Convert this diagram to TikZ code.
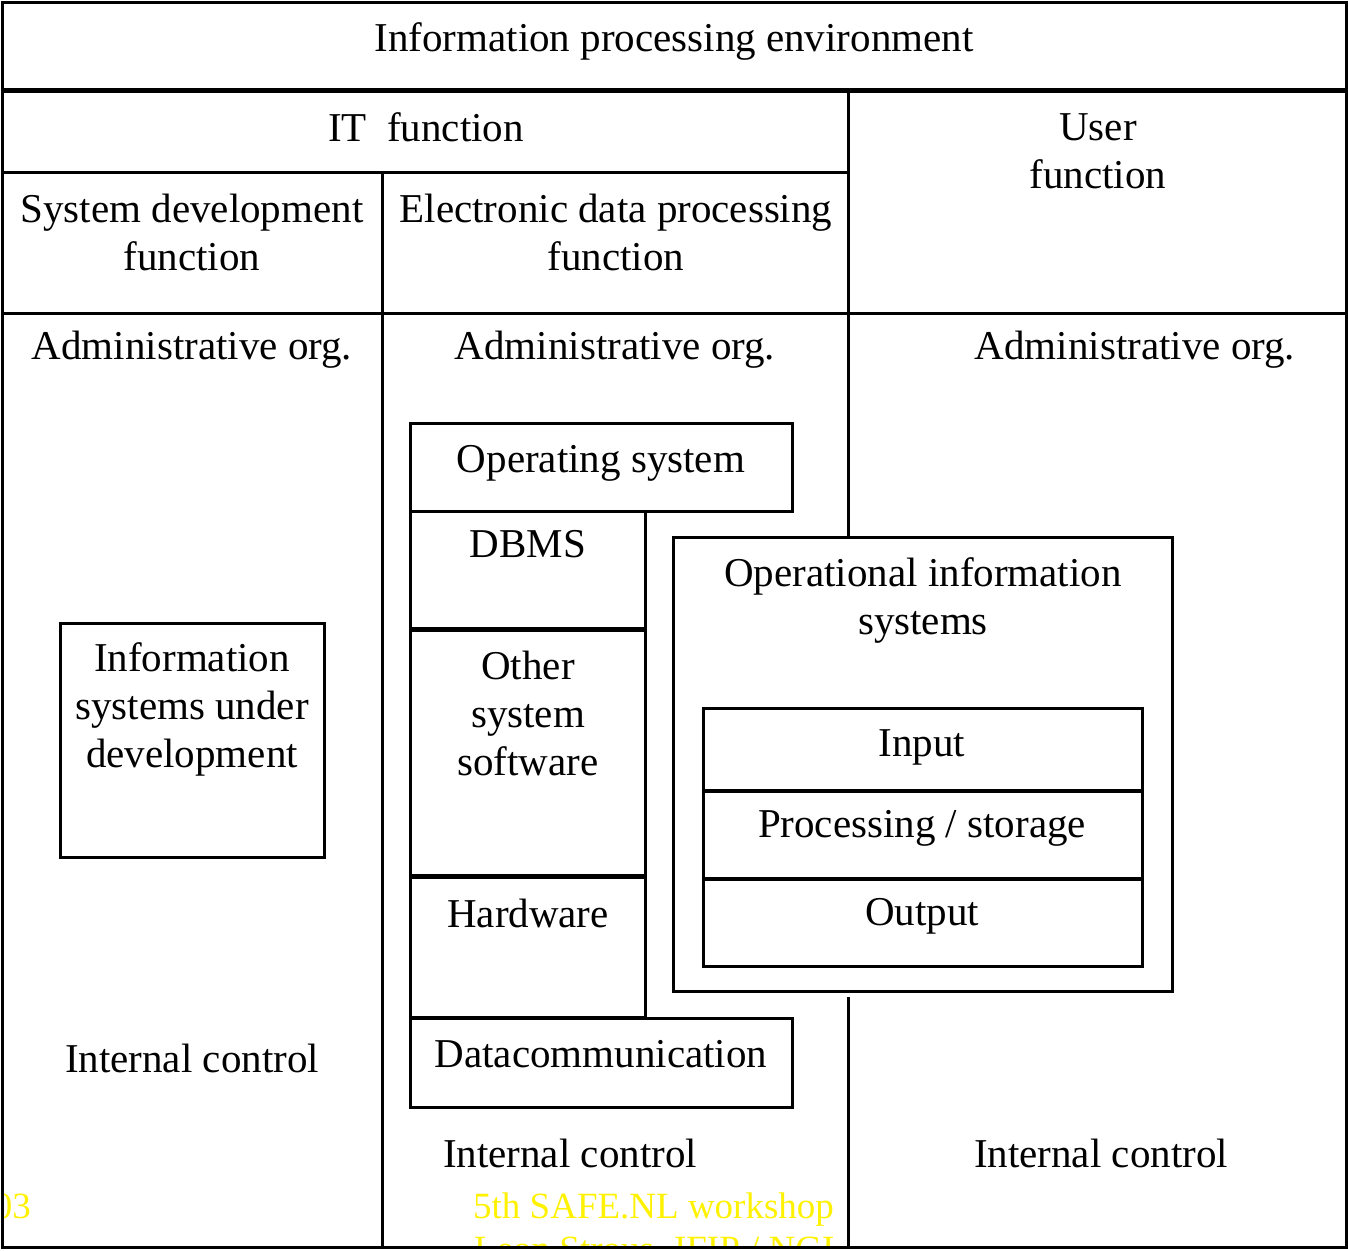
\documentclass[tikz,border=0pt]{standalone}
\usepackage{fontspec}
\setmainfont{Liberation Serif}
\begin{document}
\begin{tikzpicture}[x=1pt,y=-1pt,
  rule/.style={line width=3pt, draw=black},
  thickrule/.style={line width=5pt, draw=black},
  boxline/.style={line width=3pt, draw=black, fill=white},
  lbl/.style={font=\fontsize{41}{48}\selectfont, inner sep=0pt, anchor=base, align=center},
  foot/.style={font=\fontsize{37}{42}\selectfont, text=yellow, inner sep=0pt},
]
\useasboundingbox (0,0) rectangle (1348,1250);
\fill[white] (0,0) rectangle (1348,1250);

% yellow footer text (clipped by frame)
\begin{scope}
\clip (3,3) rectangle (1345,1246);
\node[foot, anchor=base east] (foota) at (31,1218) {2003};
\node[foot, anchor=base west] (footb) at (473,1218) {5th SAFE.NL workshop};
\node[foot, anchor=base west] (footc) at (474,1261) {Leon Strous\hspace{20pt}IFIP / NGI};
\end{scope}

% grid
\draw[thickrule] (2,90) -- (1346,90);
\draw[rule] (2,172) -- (848,172);
\draw[rule] (2,313) -- (1346,313);
\draw[rule] (848,90) -- (848,313);
\draw[rule] (382,172) -- (382,1247);
\draw[rule] (848,313) -- (848,537);
\draw[rule] (848,997) -- (848,1247);
\draw[rule] (2,2) rectangle (1346,1247);

% header labels (base anchor = baseline of last line)
\node[lbl] (env) at (674,51) {Information processing environment};
\node[lbl] (itf) at (426,141) {IT\ \ function};
\node[lbl] (userf) at (1098,188) {User\\function};
\node[lbl] (sysdev) at (192,270) {System development\\function};
\node[lbl] (edp) at (616,270) {Electronic data processing\\function};

\node[lbl] (adm1) at (192,359) {Administrative org.};
\node[lbl] (adm2) at (615,359) {Administrative org.};
\node[lbl] (adm3) at (1135,359) {Administrative org.};

% left column box
\draw[boxline] (60,623) rectangle (324,857);
\node[lbl] (isud) at (192,767) {Information\\systems under\\development};

% EDP stack
\draw[boxline] (410,423) rectangle (792,511);
\node[lbl] (os) at (601,472) {Operating system};
\draw[boxline] (410,511) rectangle (645,628);
\node[lbl] (dbms) at (528,557) {DBMS};
\draw[boxline] (410,630) rectangle (645,875);
\node[lbl] (oss) at (528,775) {Other\\system\\software};
\draw[boxline] (410,877) rectangle (645,1017);
\node[lbl] (hw) at (528,927) {Hardware};
\draw[boxline] (410,1018) rectangle (792,1107);
\node[lbl] (dc) at (601,1067) {Datacommunication};

% operational information systems
\draw[boxline] (673,537) rectangle (1172,991);
\node[lbl] (ois) at (923,634) {Operational information\\systems};
\draw[boxline] (703,708) rectangle (1142,790);
\node[lbl] (inp) at (922,756) {Input};
\draw[boxline] (703,791) rectangle (1142,878);
\node[lbl] (proc) at (922,837) {Processing / storage};
\draw[boxline] (703,879) rectangle (1142,966);
\node[lbl] (outp) at (922,925) {Output};

% internal control labels
\node[lbl] (ic1) at (192,1072) {Internal control};
\node[lbl] (ic2) at (570,1167) {Internal control};
\node[lbl] (ic3) at (1101,1167) {Internal control};
\end{tikzpicture}
\end{document}
